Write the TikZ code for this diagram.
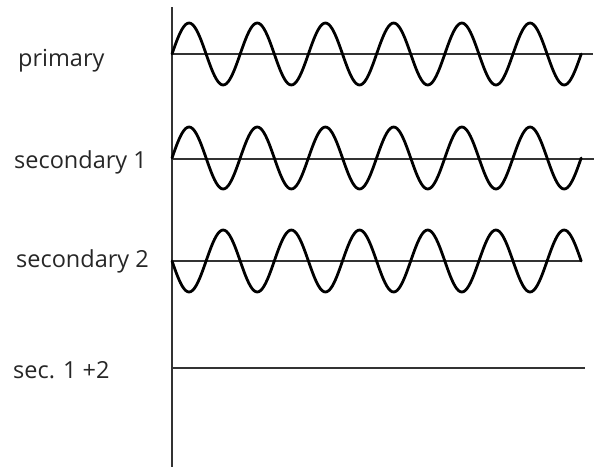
\documentclass[tikz,border=0pt]{standalone}
\usepackage{fontspec}
\setmainfont{Open Sans}
\begin{document}
\begin{tikzpicture}[x=1pt,y=-1pt,
  lbl/.style={anchor=base west,inner sep=0pt,font=\fontsize{23.5}{26}\selectfont,text=black!85},
  axisline/.style={line width=1.6pt,draw=black!80},
  baseline/.style={line width=1.6pt,draw=black!80},
  wave/.style={line width=2.8pt,draw=black,line cap=round,line join=round}]
\useasboundingbox (0,0) rectangle (603,467);
% vertical axis
\coordinate (atop) at (172,7);
\coordinate (abot) at (172,467);
\draw[axisline] (atop) -- (abot);
% baselines
\coordinate (p0) at (172,54);  \coordinate (p1) at (593,54);
\coordinate (s10) at (172,159); \coordinate (s11) at (594,159);
\coordinate (s20) at (172,261); \coordinate (s21) at (582,261);
\coordinate (c0) at (172,368); \coordinate (c1) at (585,368);
\draw[baseline] (p0) -- (p1);
\draw[baseline] (s10) -- (s11);
\draw[baseline] (s20) -- (s21);
\draw[baseline] (c0) -- (c1);
% waves
\draw[wave] plot[domain=0:409.2,samples=241,smooth] ({172+\x},{54-31*sin(\x/68.2*360)});
\draw[wave] plot[domain=0:409.2,samples=241,smooth] ({172+\x},{158-31*sin(\x/68.2*360)});
\draw[wave] plot[domain=0:409.2,samples=241,smooth] ({172+\x},{261+31*sin(\x/68.2*360)});
% labels
\node[lbl] (lp) at (18,66) {primary};
\node[lbl] (ls1) at (14,168) {secondary 1};
\node[lbl] (ls2) at (16,267) {secondary 2};
\node[lbl] (lc) at (13,378) {sec. 1 +2};
\end{tikzpicture}
\end{document}
